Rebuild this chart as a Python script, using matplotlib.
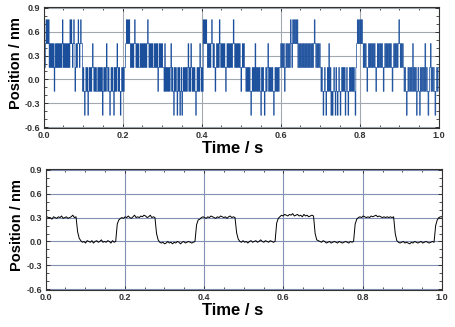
import matplotlib
matplotlib.use("Agg")
import matplotlib.pyplot as plt
import numpy as np
from matplotlib.ticker import MultipleLocator

# ---- optical trap trace, quantized detector output (top panel) ----
# level codes 0..4 -> position in nm
levels_nm = [-0.45, -0.15, 0.15, 0.45, 0.75]
raw_switch_t = [0.0, 0.097, 0.206, 0.303, 0.404, 0.51, 0.598, 0.70, 0.79, 0.91, 1.0]
raw_codes = [
    "1223434342323232312323232323234232323232324343234312323432343",
    "31210121201212123212121121212120121213212101212102121321210121212",
    "23434343232323432323223232323232343232323223232312323232",
    "2131212121231210212102120120121212123121321212101212132121",
    "434343232323432321232324323232321232323232343232323232123232",
    "2121212101212131212121021210121231212121012121212",
    "232323123232324324343434232323232323232323232343232323",
    "21210121012131201012102101210121212012101212121210",
    "2343434343232321232323232321232323232123232323232123232323432323",
    "2121012121213121201210212121312101231212101212",
]

# ---- filtered trace (bottom panel), values in 0.01 nm ----
filt_switch_t = [0.0, 0.081, 0.181, 0.28, 0.381, 0.482, 0.583, 0.68, 0.781, 0.882, 0.984, 1.0]
filt_vals = [
    "29 31 30 30 28 31 30 29 31 30 32 29 30 31 29 30 31 33 30 31",
    "12 4 1 -1 0 -2 1 0 -1 1 -2 0 1 -1 0 2 -1 0 -1 1 0 -2 1 -1 0",
    "22 27 29 30 29 31 30 32 30 29 31 33 30 31 30 32 31 33 32 30 31 33 30 31 30",
    "10 2 -1 -2 -1 -3 -2 0 -2 -1 -3 -1 -2 0 -1 -3 -1 0 -2 -1 0 -1 -2 -1 0",
    "21 27 28 30 31 30 29 31 30 32 31 30 29 31 30 32 31 30 31 29 31 32 30 31 30",
    "11 3 0 -1 1 -1 0 -2 0 1 -1 0 1 -1 0 2 0 -1 1 0 -1 1 0 -1 0",
    "23 29 31 33 32 34 33 32 34 33 35 32 33 34 32 33 31 34 32 33 31 32 33 32",
    "10 2 1 0 -1 1 0 -2 -1 0 -2 -1 0 -1 -2 0 -1 -2 -1 0 -1 -2 0 -1 0",
    "22 28 30 31 30 32 31 30 31 30 32 31 32 33 31 32 31 30 31 30 31 30 31 30 31",
    "10 1 -1 -2 -1 0 -2 -1 -2 -3 -1 -2 0 -1 -2 -1 0 -2 -1 0 -1 -2 -1 0 -1",
    "20 27 30 31",
]


def build(switch_t, chunks, to_val):
    tt, yy = [], []
    for t0, t1, ch in zip(switch_t[:-1], switch_t[1:], chunks):
        v = to_val(ch)
        tt.extend(np.linspace(t0, t1, len(v) + 1)[:-1])
        yy.extend(v)
    tt.append(switch_t[-1])
    yy.append(yy[-1])
    return np.array(tt), np.array(yy)


t_raw, y_raw = build(raw_switch_t, raw_codes,
                     lambda s: [levels_nm[int(c)] for c in s])
t_filt, y_filt = build(filt_switch_t, filt_vals,
                       lambda s: [int(v) / 100 for v in s.split()])

plt.rcParams['font.family'] = ['Liberation Sans', 'DejaVu Sans']

fig = plt.figure(figsize=(4.56, 3.27), dpi=100)
ax1 = fig.add_axes([0.0954, 0.6086, 0.867, 0.370])
ax2 = fig.add_axes([0.0998, 0.1131, 0.8695, 0.370])

ax1.plot(t_raw, y_raw, color='#1b4f9c', lw=0.5, drawstyle='steps-post')
ax2.plot(t_filt, y_filt, color='black', lw=0.7)

for ax, gcol in ((ax1, '#a3a7b0'), (ax2, '#8391b5')):
    ax.set_xlim(0, 1.0)
    ax.set_ylim(-0.61, 0.91)
    ax.xaxis.set_minor_locator(MultipleLocator(0.05))
    ax.yaxis.set_minor_locator(MultipleLocator(0.1))
    ax.set_xticks(np.arange(0, 1.01, 0.2))
    ax.set_xticklabels(['0.0', '0.2', '0.4', '0.6', '0.8', '1.0'])
    ax.set_yticks([-0.6, -0.3, 0.0, 0.3, 0.6, 0.9])
    ax.set_yticklabels(['-0.6', '-0.3', '0.0', '0.3', '0.6', '0.9'])
    ax.grid(True, which='major', color=gcol, lw=0.8)
    ax.set_axisbelow(True)
    ax.tick_params(which='both', direction='in', top=True, right=True,
                   colors='#333333', labelsize=6.5, labelcolor='#333333')
    ax.tick_params(which='major', length=3, width=0.7, pad=2.5)
    ax.tick_params(which='minor', length=2, width=0.6)
    for lab in ax.get_xticklabels() + ax.get_yticklabels():
        lab.set_fontweight('bold')
    for sp in ax.spines.values():
        sp.set_color('#333333')
        sp.set_linewidth(0.8)

fig.text(233 / 456, 1 - 148.5 / 327, 'Time / s', ha='center', va='center',
         fontsize=12, fontweight='bold')
fig.text(233 / 456, 1 - 310.5 / 327, 'Time / s', ha='center', va='center',
         fontsize=12, fontweight='bold')
fig.text(16 / 456, 1 - 63 / 327, 'Position / nm', ha='center', va='center',
         rotation=90, fontsize=10.5, fontweight='bold')
fig.text(17 / 456, 1 - 225 / 327, 'Position / nm', ha='center', va='center',
         rotation=90, fontsize=10.5, fontweight='bold')

fig.savefig('out.png', dpi=100)
